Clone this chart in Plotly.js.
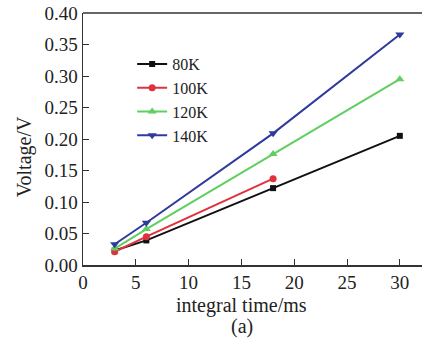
<!DOCTYPE html>
<html><head><meta charset="utf-8">
<script src="https://cdn.plot.ly/plotly-3.0.1.min.js"></script>
<style>html,body{margin:0;padding:0;background:#fff}</style>
</head><body><div id="chart" style="width:422px;height:342px"></div>
<script>
var timeMs = [3, 6, 18, 30];
var time100 = [3, 6, 18];
var v80K = [0.023, 0.039, 0.122, 0.205];
var v100K = [0.021, 0.045, 0.137];
var v120K = [0.026, 0.057, 0.176, 0.295];
var v140K = [0.033, 0.067, 0.209, 0.366];
var seriesNames = ['80K', '100K', '120K', '140K'];
var xTicks = [0, 5, 10, 15, 20, 25, 30];
var yTicks = [0, 0.05, 0.10, 0.15, 0.20, 0.25, 0.30, 0.35, 0.40];

function tr(x, y, name, color, symbol, size) {
  return {x: x, y: y, name: name, type: 'scatter', mode: 'lines+markers',
    line: {color: color, width: 2}, marker: {color: color, symbol: symbol, size: size}};
}
var data = [
  tr(timeMs, v80K, seriesNames[0], '#111111', 'square', 6),
  tr(time100, v100K, seriesNames[1], '#e0323c', 'circle', 7),
  tr(timeMs, v120K, seriesNames[2], '#5fcf5f', 'triangle-up', 8),
  tr(timeMs, v140K, seriesNames[3], '#2e3a9c', 'triangle-down', 8)
];
var fam = '"Liberation Serif", "DejaVu Serif", serif';
var tickFont = {family: fam, color: '#222', size: 19};
var titleFont = {family: fam, color: '#222', size: 20};
var layout = {
  width: 422, height: 342,
  margin: {l: 83, r: 0, t: 13, b: 77},
  paper_bgcolor: '#fff', plot_bgcolor: '#fff',
  font: tickFont,
  showlegend: true,
  legend: {x: 0.145, y: 0.865, xanchor: 'left', yanchor: 'top', bgcolor: 'rgba(0,0,0,0)',
    font: {family: fam, size: 16, color: '#222'}, tracegroupgap: 0, itemwidth: 30},
  xaxis: {range: [0, 32.1], tickvals: xTicks, ticktext: xTicks.map(String),
    ticks: 'inside', ticklen: 6, tickcolor: '#333', showline: true, linecolor: '#333', linewidth: 1.5,
    mirror: false, showgrid: false, zeroline: false, tickfont: tickFont},
  yaxis: {range: [0, 0.4], tickvals: yTicks, ticktext: yTicks.map(function(v){return v.toFixed(2);}),
    ticks: 'inside', ticklen: 6, tickcolor: '#333', showline: true, linecolor: '#333', linewidth: 1.5,
    showgrid: false, zeroline: false, tickfont: tickFont},
  shapes: [{type: 'line', xref: 'paper', yref: 'paper', x0: 0, x1: 1, y0: 1, y1: 1,
    line: {color: '#333', width: 1.5}}],
  annotations: [
    {text: 'Voltage/V', xref: 'paper', yref: 'paper', x: -0.172, y: 0.43, textangle: -90,
      showarrow: false, xanchor: 'center', yanchor: 'middle', font: titleFont},
    {text: 'integral time/ms', xref: 'paper', yref: 'paper', x: 0.469, y: -0.16,
      showarrow: false, xanchor: 'center', yanchor: 'middle', font: titleFont},
    {text: '(a)', xref: 'paper', yref: 'paper', x: 0.469, y: -0.245,
      showarrow: false, xanchor: 'center', yanchor: 'middle', font: titleFont}
  ]
};
Plotly.newPlot('chart', data, layout, {displayModeBar: false, staticPlot: true});
</script></body></html>
